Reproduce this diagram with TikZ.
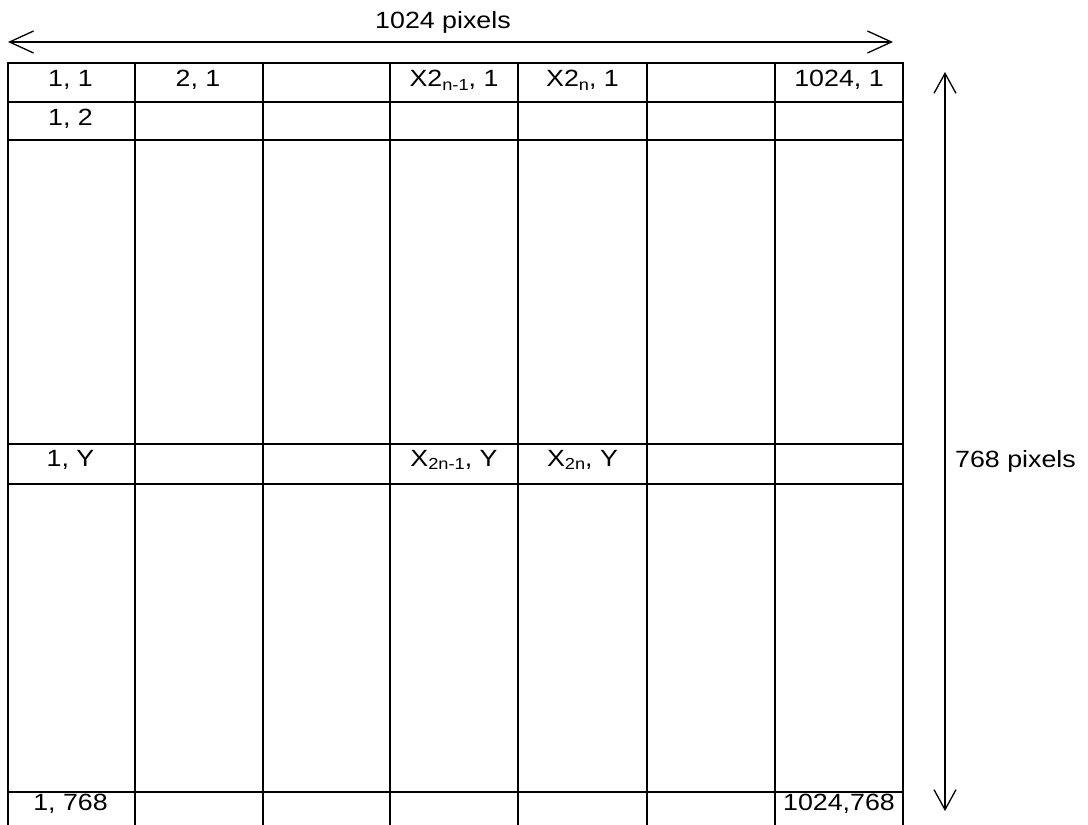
\documentclass[tikz,border=0pt]{standalone}
\usepackage{fontspec}
\setmainfont[FakeStretch=1.14]{Liberation Sans}
\usetikzlibrary{arrows.meta}
\newcommand{\lowsub}[1]{\raisebox{-3.5pt}{\fontsize{16}{16}\selectfont #1}}
\begin{document}
\begin{tikzpicture}[x=1pt,y=-1pt,
  gridline/.style={line width=2pt, line cap=rect},
  dimline/.style={line width=1.3pt, {Straight Barb[length=24pt,width=22pt]}-{Straight Barb[length=24pt,width=22pt]}},
  vdimline/.style={line width=1.3pt, {Straight Barb[length=20pt,width=22pt]}-{Straight Barb[length=20pt,width=22pt]}},
  lbl/.style={anchor=base, inner sep=0pt, font=\fontsize{23.5}{23.5}\selectfont}]
\useasboundingbox (0,0) rectangle (1088,825);
% grid
\foreach \x in {7.5,135,263,390,518,647,775,903}
  \draw[line width=2pt] (\x,62) -- (\x,826);
\foreach \y in {63,102,140,444,484,792}
  \draw[gridline] (7.5,\y) -- (903,\y);
% dimension arrows
\coordinate (hl) at (8,42);
\coordinate (hr) at (893,42);
\coordinate (vt) at (945,72);
\coordinate (vb) at (945,811);
\draw[dimline] (hl) -- (hr);
\draw[vdimline] (vt) -- (vb);
\node[lbl] (wlabel) at (443,28) {1024 pixels};
\node[lbl, anchor=base west] (hlabel) at (955,467.5) {768 pixels};
% cell labels
\node[lbl] (c11) at (70.5,86.5) {1, 1};
\node[lbl] (c21) at (198,86.5) {2, 1};
\node[lbl] (cx1) at (454,86.5) {X2\lowsub{n-1}, 1};
\node[lbl] (cx2) at (582.5,86.5) {X2\lowsub{n}, 1};
\node[lbl] (cw1) at (839,86.5) {1024, 1};
\node[lbl] (c12) at (70.5,125) {1, 2};
\node[lbl] (c1y) at (70.5,466) {1, Y};
\node[lbl] (cxy1) at (454,466) {X\lowsub{2n-1}, Y};
\node[lbl] (cxy2) at (582.5,466) {X\lowsub{2n}, Y};
\node[lbl] (c1h) at (70.5,810) {1, 768};
\node[lbl] (cwh) at (839,810) {1024,768};
\end{tikzpicture}
\end{document}
